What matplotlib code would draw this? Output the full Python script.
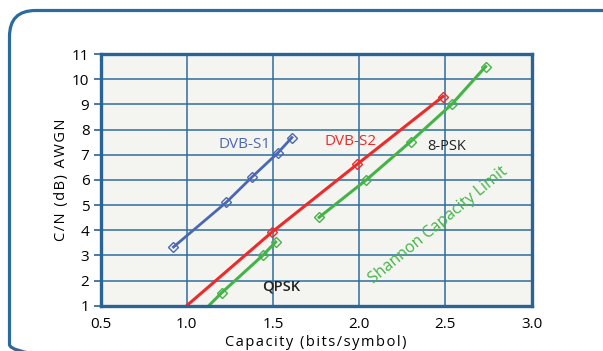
import matplotlib
matplotlib.use("Agg")
import matplotlib.pyplot as plt
from matplotlib.patches import FancyBboxPatch

plt.rcParams['font.family'] = ['Open Sans', 'DejaVu Sans']

# Data
s1_x = [0.923, 1.23, 1.38, 1.53, 1.61]
s1_y = [3.33, 5.11, 6.12, 7.08, 7.68]
s2_x = [1.0, 1.494, 1.989, 2.486]
s2_y = [1.0, 3.92, 6.62, 9.31]
qpsk_x = [1.128, 1.204, 1.443, 1.516]
qpsk_y = [1.0, 1.52, 3.01, 3.53]
psk8_x = [1.768, 2.042, 2.299, 2.537, 2.734]
psk8_y = [4.51, 6.0, 7.52, 9.0, 10.5]
x_ticks = [0.5, 1.0, 1.5, 2.0, 2.5, 3.0]
x_tick_labels = ['0.5', '1.0', '1.5', '2.0', '2.5', '3.0']
y_ticks = list(range(1, 12))

W, H = 603, 351
fig = plt.figure(figsize=(W / 100, H / 100), dpi=100)

# Background frame
bg = fig.add_axes([0, 0, 1, 1])
bg.set_xlim(0, W)
bg.set_ylim(H, 0)
bg.axis('off')
frame = FancyBboxPatch((9.5, 10.5), 620, 360,
                       boxstyle="round,pad=0,rounding_size=26",
                       fill=False, edgecolor='#2a6aa0', linewidth=2.3)
bg.add_patch(frame)

ax = fig.add_axes([100.5 / W, 1 - 305.7 / H, 431 / W, 251.7 / H])
ax.set_facecolor('#f4f5f0')
ax.set_xlim(0.5, 3.0)
ax.set_ylim(1, 11)
ax.set_xticks(x_ticks)
ax.set_xticklabels(x_tick_labels)
ax.set_yticks(y_ticks)
ax.grid(True, color='#2f6d9f', linewidth=1.1)
ax.set_axisbelow(True)
for s in ax.spines.values():
    s.set_color('#2a6496')
    s.set_linewidth(2.4)
ax.tick_params(axis='x', length=0, pad=8, labelsize=11)
ax.tick_params(axis='y', length=5, width=1.2, color='#2a6496', pad=3, labelsize=11)

mk = dict(marker='D', markersize=5.5, markerfacecolor='none', markeredgewidth=1.0)
ax.plot(s1_x, s1_y, color='#4a67b5', linewidth=2, **mk)
ax.plot(s2_x, s2_y, color='#ee2a2a', linewidth=2.2, markevery=[1, 2, 3], **mk)
ax.plot(qpsk_x, qpsk_y, color='#45b348', linewidth=2.2, markevery=[1, 2, 3], **mk)
ax.plot(psk8_x, psk8_y, color='#45b348', linewidth=2.2, **mk)

ax.text(1.337, 7.42, 'DVB-S1', color='#4a67b5', fontsize=11, ha='center', va='center')
ax.text(1.951, 7.53, 'DVB-S2', color='#ee2a2a', fontsize=11, ha='center', va='center')
ax.text(2.508, 7.34, '8-PSK', color='#222222', fontsize=10.5, ha='center', va='center')
ax.text(1.547, 1.76, 'QPSK', color='#222222', fontsize=10.5, fontweight='semibold',
        ha='center', va='center')
ax.text(2.459, 4.21, 'Shannon Capacity Limit', color='#45b348', fontsize=11.5,
        rotation=39.5, rotation_mode='anchor', ha='center', va='center')

hs = '\u200a'
ax.set_xlabel(hs.join('Capacity (bits/symbol)'), fontsize=10.5, labelpad=2)
ax.set_ylabel(hs.join('C/N (dB) AWGN'), fontsize=10.5, labelpad=2)

fig.savefig('out.png', dpi=100)
